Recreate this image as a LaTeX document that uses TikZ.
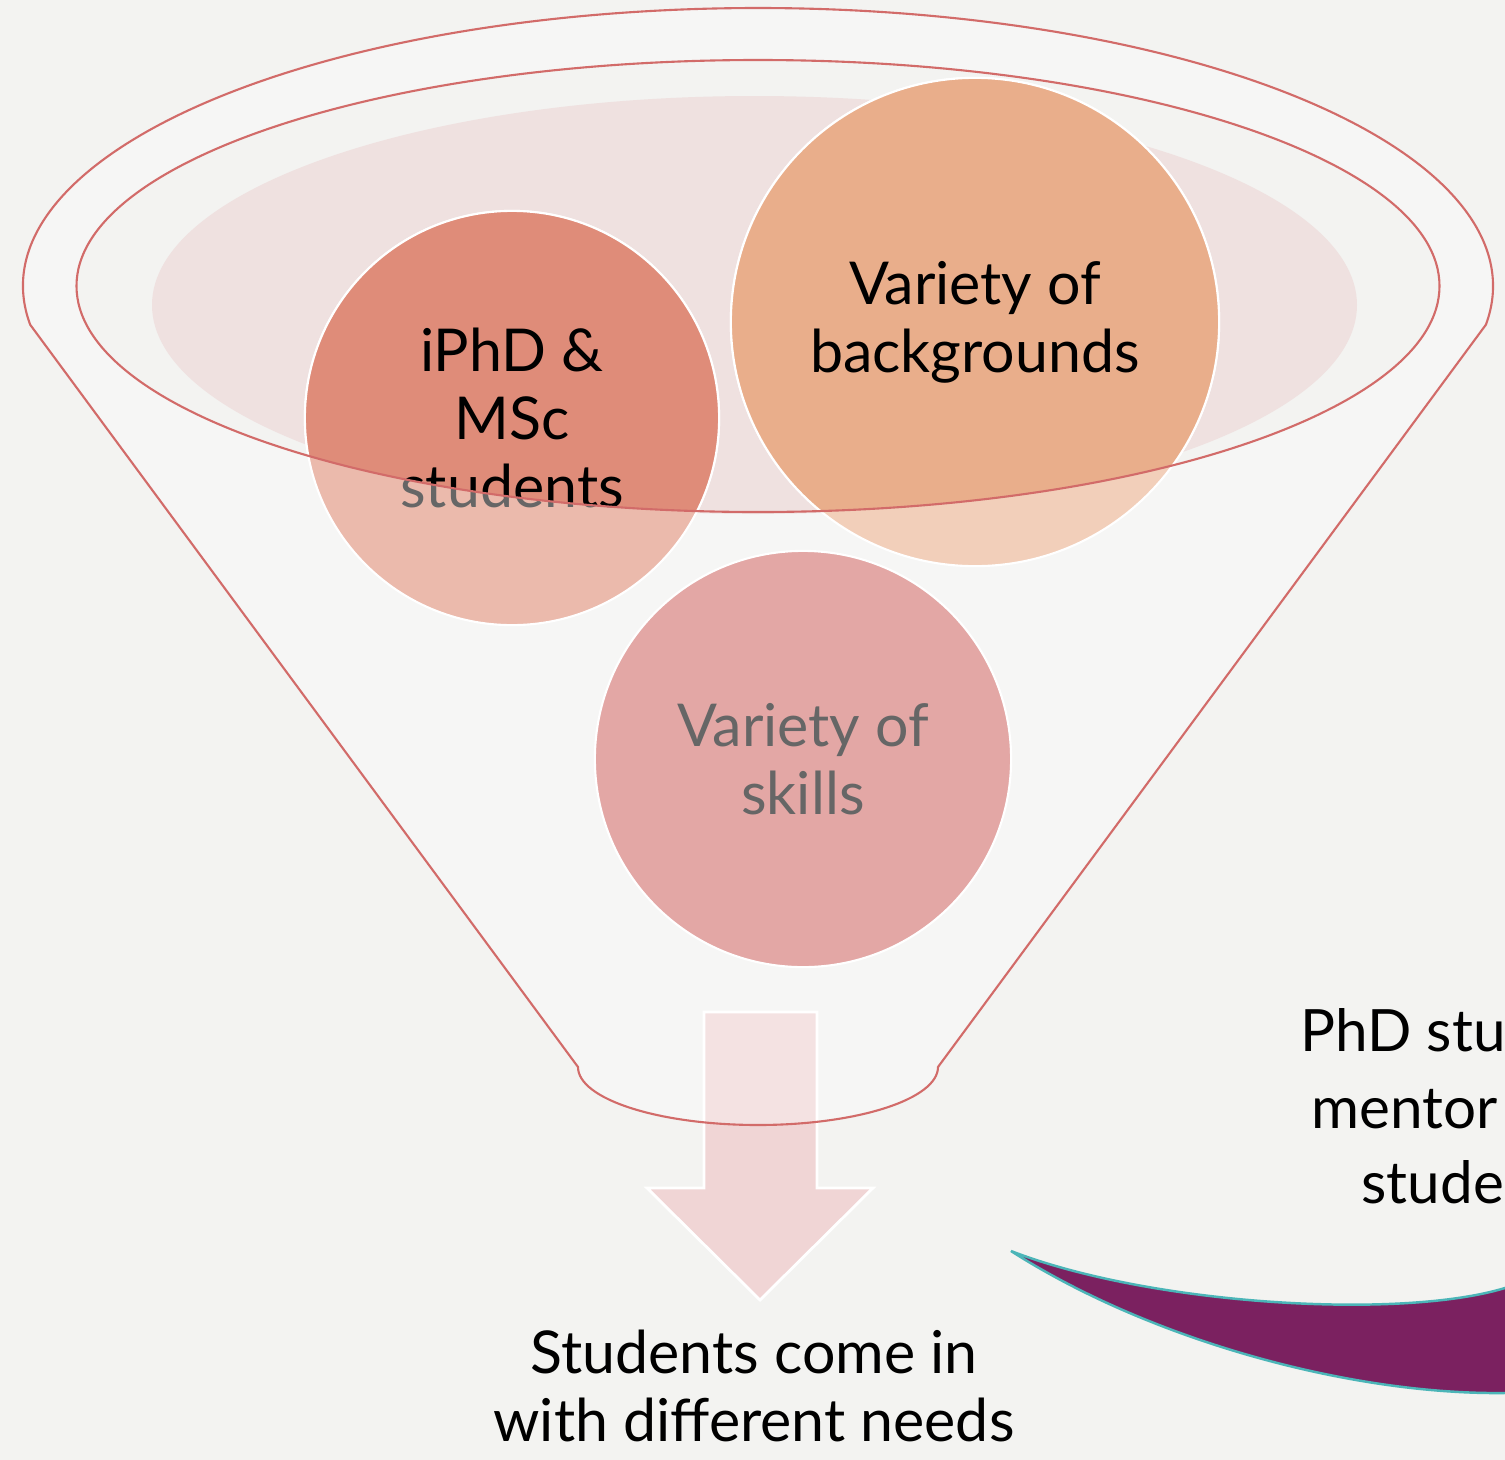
\documentclass[tikz,border=0pt]{standalone}
\usepackage{fontspec}
\setmainfont{Lato}
\usepackage{tikz}
\usetikzlibrary{positioning}
\definecolor{pagecolor}{HTML}{F3F3F1}
\definecolor{funnelred}{HTML}{D26B69}
\definecolor{mouthpink}{HTML}{EFE1E0}
\definecolor{iphdfill}{HTML}{DF8C79}
\definecolor{iphdpale}{HTML}{EBBAAC}
\definecolor{backfill}{HTML}{E9AE8B}
\definecolor{backpale}{HTML}{F2CFBA}
\definecolor{skillfill}{HTML}{E3A7A5}
\definecolor{arrowpink}{HTML}{F0D5D5}
\definecolor{mentorpurple}{HTML}{7B2160}
\definecolor{mentorteal}{HTML}{4BB5B8}
\definecolor{fadedtext}{HTML}{666666}

\begin{document}
\begin{tikzpicture}[
    x=0.01cm, y=0.01cm,
    bubble/.style={circle, draw=white, line width=0.6pt, align=center, inner sep=0pt, font=\fontsize{16.8}{19.4}\selectfont},
    funnelline/.style={draw=funnelred, line width=0.6pt},
    caption/.style={align=center, font=\fontsize{16.8}{19.6}\selectfont},
    sidetext/.style={anchor=base west, inner sep=0pt, font=\fontsize{16.6}{21}\selectfont}
]
    \useasboundingbox (0,0) rectangle (1505,-1460);
    \clip (0,0) rectangle (1505,-1460);
    \fill[pagecolor] (0,0) rectangle (1505,-1460);

    % Arrow out of the funnel
    \draw[fill=arrowpink, draw=white, line width=0.8pt]
        (704,-1012) -- (817,-1012) -- (817,-1188) -- (873,-1188) -- (760,-1300)
        -- (647,-1188) -- (704,-1188) -- cycle;

    % Funnel body
    \fill[white, fill opacity=0.33, even odd rule]
        (30.2,-324.7) arc[start angle=188, end angle=-8, x radius=735, y radius=278]
        -- (938,-1067) arc[start angle=0, end angle=-180, x radius=180, y radius=58] -- cycle
        (758,-286) ellipse[x radius=681.5, y radius=226];
    \fill[mouthpink] (754.5,-305) ellipse[x radius=602.5, y radius=209];

    % Bubbles (faded part outside the mouth)
    \node[bubble, fill=iphdpale, text=fadedtext, minimum size=4.14cm] (iphdpale) at (512,-418) {iPhD \&\\MSc\\students};
    \node[bubble, fill=backpale, text=fadedtext, minimum size=4.88cm] (backpale) at (975,-322) {Variety of\\backgrounds};
    \node[bubble, fill=skillfill, text=fadedtext, minimum size=4.16cm] (skills) at (803,-759) {Variety of\\skills};

    % Bubbles inside the mouth
    \begin{scope}
        \clip (758,-286) ellipse[x radius=681.5, y radius=226];
        \node[bubble, fill=iphdfill, minimum size=4.14cm] (iphd) at (512,-418) {iPhD \&\\MSc\\students};
        \node[bubble, fill=backfill, minimum size=4.88cm] (background) at (975,-322) {Variety of\\backgrounds};
    \end{scope}

    % Funnel outlines
    \draw[funnelline] (758,-286) ellipse[x radius=681.5, y radius=226];
    \draw[funnelline]
        (30.2,-324.7) arc[start angle=188, end angle=-8, x radius=735, y radius=278]
        -- (938,-1067) arc[start angle=0, end angle=-180, x radius=180, y radius=58] -- cycle;

    \node[caption] (needs) at (754,-1386) {Students come in\\with different needs};

    % Mentoring band
    \draw[fill=mentorpurple, draw=mentorteal, line width=0.7pt]
        (1011,-1251) .. controls (1150,-1305) and (1400,-1320) .. (1505,-1288)
        -- (1560,-1265) -- (1560,-1395) -- (1505,-1393)
        .. controls (1350,-1395) and (1150,-1340) .. (1011,-1251) -- cycle;

    \node[sidetext] (phd) at (1300,-1051) {PhD stu};
    \node[sidetext] (mentor) at (1311,-1128) {mentor};
    \node[sidetext] (studen) at (1361,-1203) {studen};
\end{tikzpicture}
\end{document}
